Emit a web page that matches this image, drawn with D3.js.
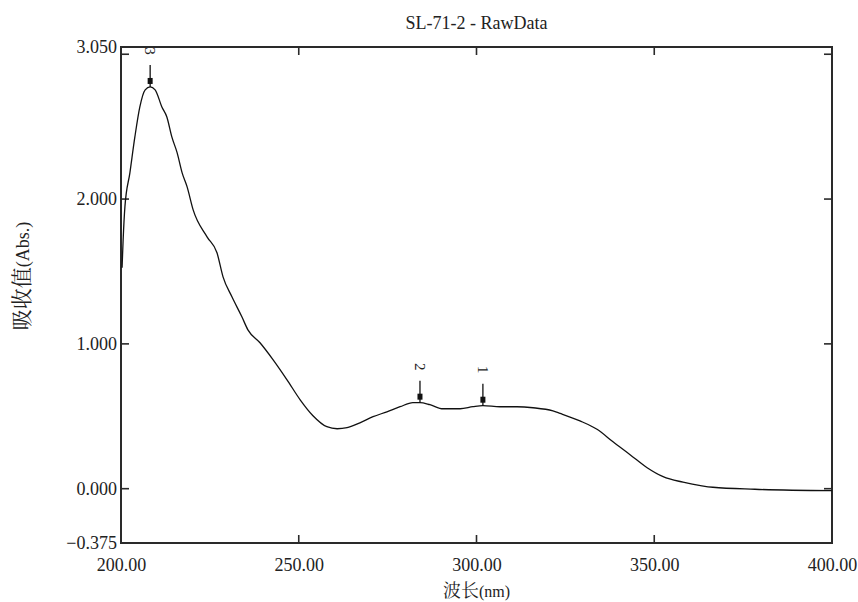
<!DOCTYPE html>
<html>
<head>
<meta charset="utf-8">
<script src="https://cdn.jsdelivr.net/npm/d3@7/dist/d3.min.js"></script>
<style>
  html, body { margin: 0; padding: 0; background: #fff; }
  svg { display: block; }
  text { font-family: "Liberation Serif", "Times New Roman", serif; fill: #222; }
</style>
</head>
<body>
<svg id="chart" width="858" height="602"></svg>
<script>
// ---- data ----
const chartTitle = "SL-71-2 - RawData";
const wavelengths = [200.3, 200.6, 201.1, 202.5, 203.9, 205.3, 206.8, 208.2, 209.6, 211.5, 212.9,
  214.3, 215.8, 217.2, 218.6, 220.3, 224.2, 227.0, 228.7, 231.2, 234.0, 235.7, 239.1, 242.8, 246.7,
  250.4, 254.0, 257.9, 260.8, 263.6, 267.2, 270.9, 274.8, 278.5, 282.1, 284.1, 286.9, 290.6, 295.4,
  299.0, 301.8, 306.6, 311.4, 315.9, 321.5, 323.5, 329.1, 333.9, 338.4, 343.2, 348.0, 352.5, 358.1,
  363.4, 366.5, 378.3, 400.0];
const absorbance = [1.525, 1.718, 1.946, 2.181, 2.429, 2.636, 2.754, 2.774, 2.754, 2.636, 2.567,
  2.429, 2.319, 2.181, 2.084, 1.925, 1.739, 1.629, 1.463, 1.325, 1.187, 1.097, 1.008, 0.890, 0.752,
  0.614, 0.504, 0.428, 0.414, 0.421, 0.455, 0.497, 0.531, 0.566, 0.594, 0.594, 0.580, 0.552, 0.552,
  0.566, 0.573, 0.566, 0.566, 0.559, 0.537, 0.520, 0.468, 0.410, 0.324, 0.235, 0.145, 0.083, 0.045,
  0.020, 0.010, -0.004, -0.014];
const peakWavelengths = [208.2, 284.1, 301.8];
const peakAbsorbance = [2.774, 0.594, 0.573];
const peakLabels = ["3", "2", "1"];
const yTickValues = [0, 1, 2, 3];
const yLabelValues = [-0.375, 0, 1, 2, 3.05];
const xTickValues = [250, 300, 350];
const xLabelValues = [200, 250, 300, 350, 400];
const xDomain = [200, 400];
const yDomain = [-0.375, 3.05];

// ---- layout ----
const pLeft = 121, pRight = 832, pTop = 47, pBottom = 543;
const svg = d3.select("#chart");
const x = d3.scaleLinear().domain(xDomain).range([pLeft, pRight]);
const y = d3.scaleLinear().domain(yDomain).range([pBottom, pTop]);
const ink = "#2a2a2a";
const fontSize = 18;
const serif = "'Liberation Serif', 'Times New Roman', serif";
const cjk = "'Noto Serif CJK SC', 'Noto Sans CJK SC', serif";

// title
svg.append("text")
  .attr("x", (pLeft + pRight) / 2).attr("y", 29)
  .attr("text-anchor", "middle")
  .style("font-family", serif)
  .style("font-size", fontSize + "px")
  .text(chartTitle);

// frame
svg.append("rect")
  .attr("x", pLeft).attr("y", pTop)
  .attr("width", pRight - pLeft).attr("height", pBottom - pTop)
  .attr("fill", "none").attr("stroke", ink).attr("stroke-width", 2);

// y labels
const yAxis = svg.append("g")
  .attr("transform", `translate(${pLeft},0)`)
  .call(d3.axisLeft(y).tickValues(yLabelValues).tickSize(0).tickPadding(4).tickFormat(d3.format(".3f")));
yAxis.select(".domain").remove();
yAxis.selectAll("text").style("font-size", fontSize + "px").style("font-family", serif).attr("fill", "#222");

// x labels
const xAxis = svg.append("g")
  .attr("transform", `translate(0,${pBottom})`)
  .call(d3.axisBottom(x).tickValues(xLabelValues).tickSize(0).tickPadding(15).tickFormat(d3.format(".2f")));
xAxis.select(".domain").remove();
xAxis.selectAll("text").style("font-size", fontSize + "px").style("font-family", serif).attr("fill", "#222");

// inner ticks (left & right)
const tickLen = 8;
svg.append("g").selectAll("line").data(yTickValues).join("line")
  .attr("x1", pLeft).attr("x2", pLeft + tickLen)
  .attr("y1", d => y(d)).attr("y2", d => y(d))
  .attr("stroke", ink).attr("stroke-width", 1.6);
svg.append("g").selectAll("line").data(yTickValues).join("line")
  .attr("x1", pRight - tickLen).attr("x2", pRight)
  .attr("y1", d => y(d)).attr("y2", d => y(d))
  .attr("stroke", ink).attr("stroke-width", 1.6);
// inner ticks (top & bottom)
svg.append("g").selectAll("line").data(xTickValues).join("line")
  .attr("x1", d => x(d)).attr("x2", d => x(d))
  .attr("y1", pBottom).attr("y2", pBottom - tickLen)
  .attr("stroke", ink).attr("stroke-width", 1.6);
svg.append("g").selectAll("line").data(xTickValues).join("line")
  .attr("x1", d => x(d)).attr("x2", d => x(d))
  .attr("y1", pTop).attr("y2", pTop + tickLen)
  .attr("stroke", ink).attr("stroke-width", 1.6);

// curve
const pts = wavelengths.map((w, i) => [w, absorbance[i]]);
svg.append("path")
  .datum(pts)
  .attr("fill", "none").attr("stroke", "#111").attr("stroke-width", 1.3)
  .attr("d", d3.line().x(d => x(d[0])).y(d => y(d[1])).curve(d3.curveMonotoneX));

// peak markers
const peaks = peakWavelengths.map((w, i) => ({ w, a: peakAbsorbance[i], label: peakLabels[i] }));
const pg = svg.append("g").selectAll("g").data(peaks).join("g")
  .attr("transform", d => `translate(${x(d.w)},${y(d.a)})`);
pg.append("line").attr("x1", 0).attr("x2", 0).attr("y1", -22).attr("y2", 0)
  .attr("stroke", "#111").attr("stroke-width", 1.3);
pg.append("rect").attr("x", -2.5).attr("y", -9).attr("width", 5).attr("height", 6).attr("fill", "#111");
pg.append("text")
  .attr("transform", "translate(0,-36) rotate(90)")
  .attr("text-anchor", "middle").attr("dy", "0.35em")
  .style("font-family", serif)
  .style("font-size", "15px")
  .text(d => d.label);

// axis titles
const yt = svg.append("text")
  .attr("transform", "translate(29,276) rotate(-90)")
  .attr("text-anchor", "middle");
yt.append("tspan").style("font-family", cjk).style("font-size", "21px").text("吸收值");
yt.append("tspan").style("font-family", serif).style("font-size", "18px").text("(Abs.)");

const xt = svg.append("text")
  .attr("x", (pLeft + pRight) / 2).attr("y", 597)
  .attr("text-anchor", "middle");
xt.append("tspan").style("font-family", cjk).style("font-size", "18px").text("波长");
xt.append("tspan").style("font-family", serif).style("font-size", "16px").text("(nm)");
</script>
</body>
</html>
